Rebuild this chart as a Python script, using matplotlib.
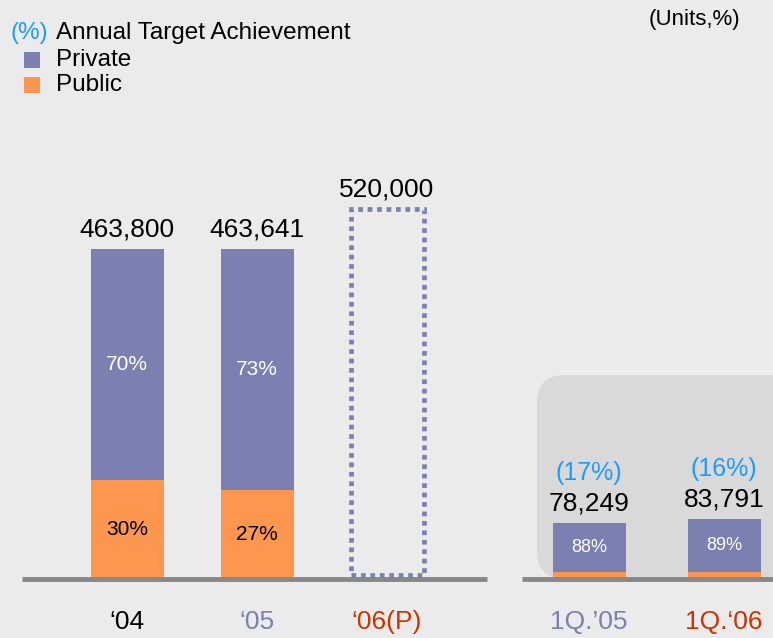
import matplotlib
matplotlib.use("Agg")
import matplotlib.pyplot as plt
from matplotlib.patches import Rectangle, FancyBboxPatch

plt.rcParams['font.family'] = ['Liberation Sans', 'DejaVu Sans']

# ---- data ----
categories = ['\u201804', '\u201805', '\u201806(P)', '1Q.\u201905', '1Q.\u201806']
totals = [463800, 463641, 520000, 78249, 83791]
private_pct = [70, 73, None, 88, 89]
public_pct = [30, 27, None, 12, 11]
achievement = [None, None, None, 17, 16]
planned = [False, False, True, False, False]

# ---- layout ----
W, H = 773, 638
x_pos = [127, 257, 387, 589, 724]
bar_w = 73
scale = 330 / 463800.0           # px per unit
base_px = 59                     # baseline height from bottom in px
cat_colors = ['#000000', '#7b80b0', '#cc3300', '#7b80b0', '#cc3300']
c_priv = '#7b80b0'
c_pub = '#fd964f'
c_blue = '#1a9cff'
bg = '#ebebeb'

fig = plt.figure(figsize=(W / 100, H / 100), dpi=100, facecolor=bg)
ax = fig.add_axes([0, 0, 1, 1])
ax.set_facecolor(bg)
ax.set_xlim(0, W)
ax.set_ylim(-base_px / scale, (H - base_px) / scale)
ax.axis('off')
px = 1 / scale  # data units per px vertically

# rounded background box for quarters
box = FancyBboxPatch((537, 0), 270, 204 * px,
                     boxstyle="round,pad=0,rounding_size=28",
                     mutation_aspect=px, facecolor='#d9d9d9',
                     edgecolor='none', zorder=1)
ax.add_patch(box)

for i, x in enumerate(x_pos):
    tot = totals[i]
    if planned[i]:
        r = Rectangle((x - bar_w / 2, 4 * px), bar_w, tot - 4 * px, fill=False,
                      edgecolor=c_priv, linewidth=3.4, linestyle=(0, (1, 1)),
                      zorder=5)
        ax.add_patch(r)
    else:
        pub = tot * public_pct[i] / 100
        priv = tot - pub
        ax.bar(x, pub, width=bar_w, color=c_pub, zorder=2)
        ax.bar(x, priv, bottom=pub, width=bar_w, color=c_priv, zorder=2)
        small = i >= 3
        ax.text(x, pub + priv / 2, f'{private_pct[i]}%', ha='center', va='center',
                color='white', fontsize=13 if small else 15, zorder=4)
        if not small:
            ax.text(x, pub / 2, f'{public_pct[i]}%', ha='center', va='center',
                    color='black', fontsize=15, zorder=4)
    ax.text(x, tot + 8 * px, f'{tot:,}', ha='center', va='bottom',
            fontsize=19, color='black', zorder=4)
    if achievement[i] is not None:
        ax.text(x, tot + 38 * px, f'({achievement[i]}%)', ha='center', va='bottom',
                fontsize=18, color=c_blue, zorder=4)
    ax.text(x, -43 * px, categories[i], ha='center', va='center',
            fontsize=19, color=cat_colors[i])

# baselines
ax.plot([22, 487], [0, 0], color='#878787', linewidth=3.5, solid_capstyle='butt', zorder=3)
ax.plot([522, 773], [0, 0], color='#878787', linewidth=3.5, solid_capstyle='butt', zorder=3)

# legend
fig.text(10 / W, 1 - 33 / H, '(%)', color=c_blue, fontsize=17.5, va='center', ha='left')
fig.text(56 / W, 1 - 33 / H, 'Annual Target Achievement', color='black', fontsize=17.5,
         va='center', ha='left')
for yy, col, lab in [(60, c_priv, 'Private'), (85, c_pub, 'Public')]:
    fig.patches.append(Rectangle((24 / W, 1 - (yy + 8) / H), 16 / W, 16 / H,
                                 transform=fig.transFigure, facecolor=col,
                                 edgecolor='none'))
    fig.text(56 / W, 1 - yy / H, lab, color='black', fontsize=17.5, va='center', ha='left')

fig.text(740 / W, 1 - 20 / H, '(Units,%)', color='black', fontsize=16,
         va='center', ha='right')

fig.savefig('out.png', dpi=100, facecolor=bg)
